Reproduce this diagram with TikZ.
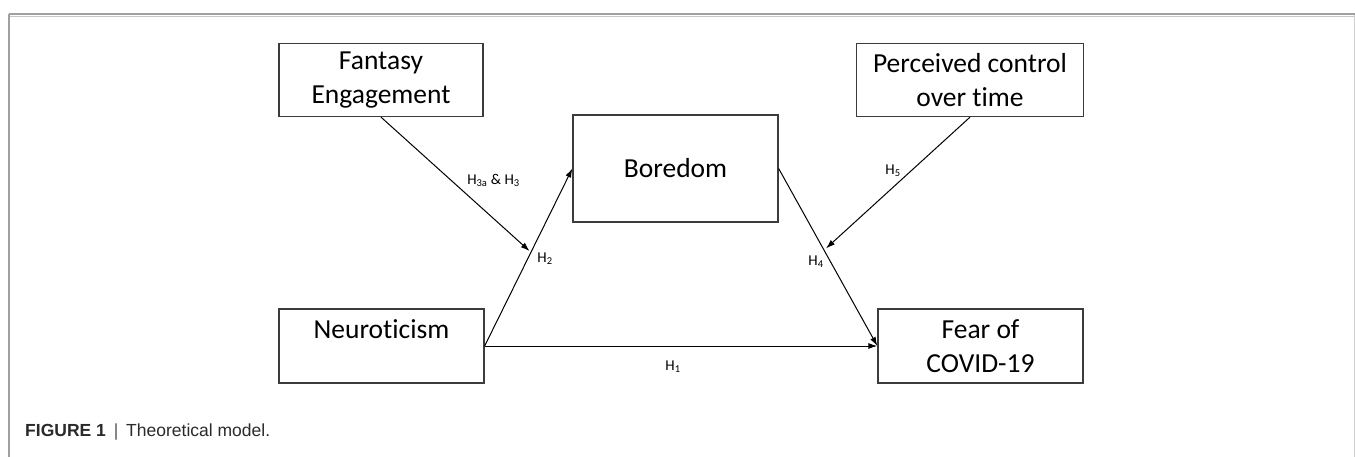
\documentclass[tikz,border=0pt]{standalone}
\usepackage{fontspec}
\setmainfont{Carlito}[Ligatures=NoCommon]
\newfontfamily\capfont{Liberation Sans}
\usetikzlibrary{arrows.meta,calc}
\definecolor{boxline}{HTML}{3C3C3C}
\definecolor{framegray}{HTML}{A0A0A0}
\definecolor{captext}{HTML}{2A2A2A}
\tikzset{
  varbox/.style={draw=boxline, line width=1.3pt, inner sep=0pt, align=center,
    font=\fontsize{27.5}{34}\selectfont, text=black},
  path/.style={draw=black, line width=1pt},
  arr/.style={path, -{Latex[length=9pt,width=6pt]}},
  hlabel/.style={font=\fontsize{15}{18}\selectfont, text=black, inner sep=0pt}
}
\begin{document}
\begin{tikzpicture}[x=1pt,y=-1pt]
\useasboundingbox (0,0) rectangle (1355,457);
% frame
\draw[framegray, line width=2pt] (9,14.5) -- (1355,14.5);
\draw[framegray!60, line width=1pt] (9,16.5) -- (1355,16.5);
\draw[framegray, line width=1.5pt] (9,14) -- (9,457);
\draw[framegray!50, line width=1pt] (1354,15) -- (1354,457);
% boxes
\node[varbox, minimum width=204pt, minimum height=73pt] (fant) at (381,80) {Fantasy\\Engagement};
\node[varbox, minimum width=227pt, minimum height=73pt] (perc) at (970,80) {Perceived control\\over time};
\node[varbox, minimum width=205pt, minimum height=107pt] (bored) at (675.5,168.5) {Boredom};
\node[varbox, minimum width=205pt, minimum height=74pt] (neuro) at (381.5,346) {Neuroticism\\\mbox{}};
\node[varbox, minimum width=205pt, minimum height=74pt] (fear) at (980.5,346) {Fear of\\COVID-19};
% moderation targets
\coordinate (m2) at ($(neuro.east)!0.535!(bored.west)$);
\coordinate (m4) at ($(bored.east)!0.45!(fear.west)$);
% connectors
\draw[arr] (neuro.east) -- (bored.west);
\draw[arr] (bored.east) -- (fear.west);
\draw[arr] (neuro.east) -- (fear.west);
\draw[arr] (fant.south) -- ([xshift=-2pt]m2);
\draw[arr] (perc.south) -- ([xshift=3pt]m4);
% labels
\node[hlabel] (l3) at (493.5,180) {H\textsubscript{3a} \& H\textsubscript{3}};
\node[hlabel] (l2) at (545,259) {H\textsubscript{2}};
\node[hlabel] (l5) at (893,171) {H\textsubscript{5}};
\node[hlabel] (l4) at (816,262) {H\textsubscript{4}};
\node[hlabel] (l1) at (673,367) {H\textsubscript{1}};
% caption
\node[anchor=base west, inner sep=0pt, text=captext, font=\capfont\fontsize{17.5}{20}\selectfont] (cap) at (25,436)
  {\textbf{FIGURE 1}\hspace{0.45em}{\color{captext!80}|}\hspace{0.45em}Theoretical model.};
\end{tikzpicture}
\end{document}
